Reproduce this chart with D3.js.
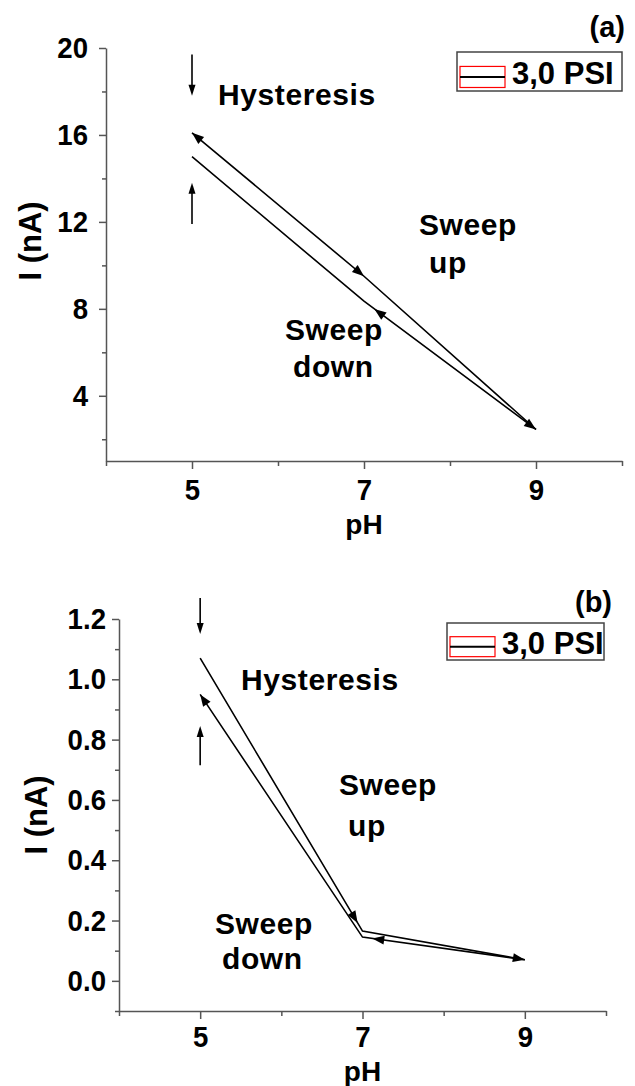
<!DOCTYPE html>
<html>
<head>
<meta charset="utf-8">
<script src="https://cdn.jsdelivr.net/npm/d3@7"></script>
<style>
  html, body { margin: 0; padding: 0; background: #fff; }
  svg text { font-family: "Liberation Sans", Arial, sans-serif; font-weight: bold; fill: #000; }
</style>
</head>
<body>
<svg id="chart" width="635" height="1086"></svg>
<script>
// ---- data ----
const phValues   = [5, 7, 9];
const phMajor    = [5, 7, 9];
const phMinor    = [4, 6, 8, 10];

const upperA = [16.1, 9.5, 2.45];
const lowerA = [15.0, 8.35, 2.45];
const yMajorA = [4, 8, 12, 16, 20];
const yMinorA = [2, 6, 10, 14, 18];

const upperB = [1.07, 0.165, 0.07];
const lowerB = [0.95, 0.145, 0.07];
const yMajorB = [0.0, 0.2, 0.4, 0.6, 0.8, 1.0, 1.2];
const yMinorB = [-0.1, 0.1, 0.3, 0.5, 0.7, 0.9, 1.1];

// direction arrows on the curves: series, segment, position along segment, direction
const arrowsA = [
  { s: "upper", seg: 0, t: 0.0, dir: -1 },
  { s: "upper", seg: 0, t: 1.0, dir: 1 },
  { s: "lower", seg: 1, t: 0.06, dir: -1 },
  { s: "lower", seg: 1, t: 1.0, dir: 1 }
];
const arrowsB = [
  { s: "upper", seg: 0, t: 0.97, dir: 1 },
  { s: "upper", seg: 1, t: 1.0, dir: 1 },
  { s: "lower", seg: 0, t: 0.0, dir: -1 },
  { s: "lower", seg: 1, t: 0.06, dir: -1 }
];

// vertical "hysteresis" markers at pH 5: [from, to]
const markA = [[19.7, 17.8], [11.9, 13.8]];
const markB = [[1.27, 1.15], [0.715, 0.845]];

const legendLabel = "3,0 PSI";

const svg = d3.select("#chart");

function drawPanel(cfg) {
  const g = svg.append("g");
  const x = d3.scaleLinear().domain([4, 10]).range([cfg.left, cfg.right]);
  const y = d3.scaleLinear().domain(cfg.yDomain).range([cfg.bottom, cfg.top]);

  // axes
  g.append("g").attr("transform", `translate(0,${cfg.bottom})`)
    .call(d3.axisBottom(x).tickValues(phMajor).tickSize(8).tickSizeOuter(0)
      .tickPadding(cfg.xPad).tickFormat(d3.format("d")));
  g.append("g").attr("transform", `translate(0,${cfg.bottom})`)
    .call(d3.axisBottom(x).tickValues(phMinor).tickSize(5).tickSizeOuter(0).tickFormat(""))
    .select(".domain").remove();
  g.append("g").attr("transform", `translate(${cfg.left},0)`)
    .call(d3.axisLeft(y).tickValues(cfg.yMajor).tickSize(7).tickSizeOuter(0)
      .tickPadding(cfg.yPad).tickFormat(cfg.fmt));
  g.append("g").attr("transform", `translate(${cfg.left},0)`)
    .call(d3.axisLeft(y).tickValues(cfg.yMinor).tickSize(4).tickSizeOuter(0).tickFormat(""))
    .select(".domain").remove();
  g.selectAll(".domain, .tick line").attr("stroke", "#555").attr("stroke-width", 1.5);
  // tall, slightly narrow digits like the original figure
  g.selectAll(".tick text").attr("font-size", 30).attr("fill", "#000")
    .style("font-family", '"Liberation Sans", Arial, sans-serif').style("font-weight", "bold")
    .each(function() {
      const len = this.getComputedTextLength();
      if (len > 0) d3.select(this).attr("textLength", len * 0.92).attr("lengthAdjust", "spacingAndGlyphs");
    });

  // axis titles
  g.append("text").attr("x", (cfg.left + cfg.right) / 2).attr("y", cfg.xTitleY)
    .attr("text-anchor", "middle").attr("font-size", 28).text("pH");
  g.append("text").attr("transform", `translate(${cfg.yTitleX},${cfg.yTitleY}) rotate(-90)`)
    .attr("text-anchor", "middle").attr("font-size", 31).text("I (nA)");

  // curves
  const series = { upper: cfg.upper, lower: cfg.lower };
  const line = d3.line().x(d => x(d[0])).y(d => y(d[1]));
  Object.values(series).forEach(vals => {
    g.append("path").datum(phValues.map((p, i) => [p, vals[i]]))
      .attr("d", line).attr("fill", "none").attr("stroke", "#000").attr("stroke-width", 1.6);
  });

  // arrowheads
  cfg.arrows.forEach(a => {
    const vals = series[a.s];
    const x0 = x(phValues[a.seg]), y0 = y(vals[a.seg]);
    const x1 = x(phValues[a.seg + 1]), y1 = y(vals[a.seg + 1]);
    const px = x0 + (x1 - x0) * a.t, py = y0 + (y1 - y0) * a.t;
    let ang = Math.atan2(y1 - y0, x1 - x0) * 180 / Math.PI;
    if (a.dir < 0) ang += 180;
    g.append("path").attr("d", "M0,0L-12,-4.5L-12,4.5Z").attr("fill", "#000")
      .attr("transform", `translate(${px},${py}) rotate(${ang})`);
  });

  // hysteresis markers
  cfg.marks.forEach(m => {
    const mx = x(5), yFrom = y(m[0]), yTo = y(m[1]);
    const sgn = yTo > yFrom ? 1 : -1;
    g.append("line").attr("x1", mx).attr("x2", mx).attr("y1", yFrom).attr("y2", yTo - sgn * 6)
      .attr("stroke", "#000").attr("stroke-width", 1.6);
    g.append("path").attr("d", `M${mx},${yTo}L${mx - 3.5},${yTo - sgn * 11}L${mx + 3.5},${yTo - sgn * 11}Z`)
      .attr("fill", "#000");
  });

  // annotations
  cfg.notes.forEach(n => {
    g.append("text").attr("x", n[1]).attr("y", n[2]).attr("font-size", 30)
      .attr("letter-spacing", 0.6).text(n[0]);
  });

  // panel tag
  g.append("text").attr("x", cfg.tag[1]).attr("y", cfg.tag[2]).attr("text-anchor", "end")
    .attr("font-size", 29).text(cfg.tag[0]);

  // legend
  const L = cfg.legend;
  g.append("rect").attr("x", L.x).attr("y", L.y).attr("width", L.w).attr("height", L.h)
    .attr("fill", "#fff").attr("stroke", "#444").attr("stroke-width", 1.5);
  g.append("rect").attr("x", L.x + 3).attr("y", L.y + L.h * 0.37).attr("width", 45).attr("height", L.h * 0.54)
    .attr("fill", "none").attr("stroke", "#f00").attr("stroke-width", 1.2);
  g.append("line").attr("x1", L.x + 3).attr("x2", L.x + 48)
    .attr("y1", L.y + L.h * 0.64).attr("y2", L.y + L.h * 0.64)
    .attr("stroke", "#000").attr("stroke-width", 2);
  g.append("text").attr("x", L.x + 55).attr("y", L.y + L.h * 0.83).attr("font-size", 31)
    .text(legendLabel);
}

drawPanel({
  left: 106, right: 622, top: 48, bottom: 461,
  yDomain: [1, 20], yMajor: yMajorA, yMinor: yMinorA, fmt: d3.format("d"),
  xPad: 10, yPad: 11, xTitleY: 534, yTitleX: 41, yTitleY: 241,
  upper: upperA, lower: lowerA, arrows: arrowsA, marks: markA,
  notes: [["Hysteresis", 218, 105], ["Sweep", 419, 235], ["up", 429, 273], ["Sweep", 285, 340], ["down", 293, 377]],
  tag: ["(a)", 625, 37],
  legend: { x: 457, y: 52, w: 165, h: 39 }
});

drawPanel({
  left: 119, right: 606, top: 619, bottom: 1011,
  yDomain: [-0.1, 1.2], yMajor: yMajorB, yMinor: yMinorB, fmt: d3.format(".1f"),
  xPad: 7, yPad: 6, xTitleY: 1081, yTitleX: 47, yTitleY: 815,
  upper: upperB, lower: lowerB, arrows: arrowsB, marks: markB,
  notes: [["Hysteresis", 241, 690], ["Sweep", 339, 795], ["up", 348, 836], ["Sweep", 215, 934], ["down", 222, 969]],
  tag: ["(b)", 612, 612],
  legend: { x: 447, y: 623, w: 157, h: 37 }
});
</script>
</body>
</html>
